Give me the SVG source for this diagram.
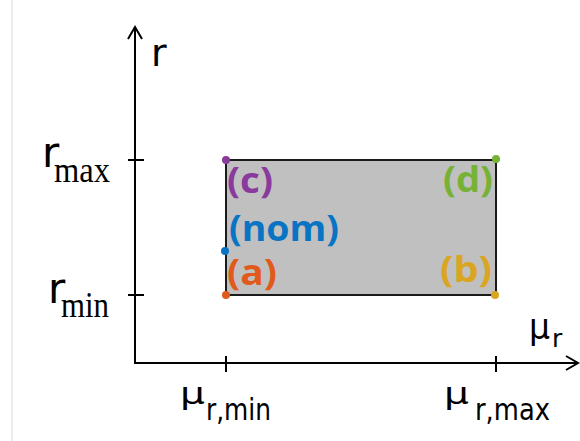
<svg xmlns="http://www.w3.org/2000/svg" width="580" height="441" viewBox="0 0 580 441">
<style>
.ax{stroke:#000;stroke-width:2;fill:none}
.lbl{font-family:"Open Sans","DejaVu Sans",sans-serif;font-weight:bold;font-size:36px}
.s{font-family:"DejaVu Sans",sans-serif;fill:#000}
.sr{font-family:"Liberation Serif",serif;fill:#000}
</style>
<rect width="580" height="441" fill="#fff"/>
<line x1="12" y1="0" x2="12" y2="441" stroke="#e4e4e4" stroke-width="1.5"/>
<g id="connectors">
<path class="ax" d="M135,27 V363 H578"/>
<path class="ax" d="M128,39 L135,27 L142,39"/>
<path class="ax" d="M566,356 L578,363 L566,370"/>
<path class="ax" d="M128,160 H144 M128,295 H144 M226,356 V372 M496,356 V372"/>
</g>
<g id="region">
<rect x="226" y="160" width="270" height="135" fill="#c0c0c0" stroke="#1a1a1a" stroke-width="2"/>
</g>
<g id="c"><circle cx="226" cy="160" r="4" fill="#8a3a9c"/><text class="lbl" x="227" y="193" fill="#8a3a9c" textLength="46" lengthAdjust="spacingAndGlyphs">(c)</text></g>
<g id="nom"><circle cx="225" cy="251" r="4" fill="#0a74c4"/><text class="lbl" x="229" y="241" fill="#0a74c4" textLength="110" lengthAdjust="spacingAndGlyphs">(nom)</text></g>
<g id="a"><circle cx="226" cy="295" r="4" fill="#e05a1b"/><text class="lbl" x="227" y="285" fill="#e05a1b" textLength="50" lengthAdjust="spacingAndGlyphs">(a)</text></g>
<g id="d"><circle cx="496" cy="159" r="4" fill="#77b135"/><text class="lbl" x="443" y="192" fill="#77b135" textLength="50" lengthAdjust="spacingAndGlyphs">(d)</text></g>
<g id="b"><circle cx="495" cy="295" r="4" fill="#daa520"/><text class="lbl" x="440" y="282" fill="#daa520" textLength="52" lengthAdjust="spacingAndGlyphs">(b)</text></g>
<g id="axis-labels">
<text class="s" x="151" y="66" font-size="38">r</text>
<text x="42" y="167"><tspan class="s" font-size="42">r</tspan><tspan class="sr" font-size="36" x="54" y="182" textLength="56" lengthAdjust="spacingAndGlyphs">max</tspan></text>
<text x="48" y="303"><tspan class="s" font-size="42">r</tspan><tspan class="sr" font-size="36" x="61" y="317" textLength="48" lengthAdjust="spacingAndGlyphs">min</tspan></text>
<text x="529" y="339"><tspan class="s" font-size="36" textLength="21" lengthAdjust="spacingAndGlyphs">μ</tspan><tspan class="s" font-size="25" x="552" y="347">r</tspan></text>
<text x="180" y="404"><tspan class="s" font-size="31" textLength="25" lengthAdjust="spacingAndGlyphs">μ</tspan><tspan class="s" font-size="31" x="206" y="420" textLength="65" lengthAdjust="spacingAndGlyphs">r,min</tspan></text>
<text x="444" y="404"><tspan class="s" font-size="31" textLength="25" lengthAdjust="spacingAndGlyphs">μ</tspan><tspan class="s" font-size="31" x="475" y="420" textLength="75" lengthAdjust="spacingAndGlyphs">r,max</tspan></text>
</g>
</svg>
